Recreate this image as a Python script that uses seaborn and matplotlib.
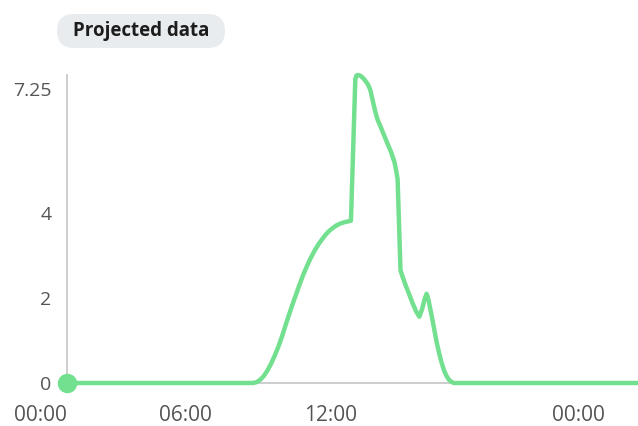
import matplotlib
matplotlib.use("Agg")
import matplotlib.pyplot as plt
import matplotlib.transforms as mtransforms
from matplotlib.patches import FancyBboxPatch
import seaborn as sns
import pandas as pd

# Projected output over the day (hours since midnight)
hours = [0.0, 7.7, 7.85, 8.0, 8.15, 8.3, 8.45, 8.6, 8.75, 8.9, 9.05, 9.2, 9.35,
         9.5, 9.65, 9.8, 9.95, 10.1, 10.25, 10.4, 10.55, 10.7, 10.85, 11.0,
         11.15, 11.3, 11.45, 11.6, 11.75, 11.93, 11.98, 12.05, 12.15, 12.3,
         12.45, 12.55, 12.65, 12.75, 12.85, 13.0, 13.2, 13.4, 13.55, 13.62,
         13.68, 13.8, 13.9, 14.0, 14.15, 14.3, 14.45, 14.58, 14.7, 14.8, 14.88,
         14.95, 15.1, 15.2, 15.3, 15.4, 15.5, 15.6, 15.7, 15.8, 15.9, 16.0,
         16.1, 23.7]
values = [0.0, 0.0, 0.02, 0.08, 0.17, 0.3, 0.46, 0.65, 0.86, 1.1, 1.37, 1.63,
          1.88, 2.12, 2.36, 2.58, 2.78, 2.96, 3.12, 3.26, 3.38, 3.49, 3.58, 3.65,
          3.71, 3.75, 3.78, 3.8, 3.82, 7.15, 7.24, 7.25, 7.23, 7.15, 7.03, 6.9,
          6.65, 6.4, 6.2, 6.0, 5.72, 5.45, 5.2, 5.0, 4.8, 2.65, 2.48, 2.32, 2.1,
          1.88, 1.68, 1.56, 1.75, 1.98, 2.1, 1.98, 1.55, 1.25, 0.95, 0.7, 0.48,
          0.3, 0.17, 0.08, 0.03, 0.0, 0.0, 0.0]

y_ticks = [0, 2, 4, 7.25]
y_tick_labels = ["0", "2", "4", "7.25"]
x_ticks = [0, 6, 12, 22.26]
x_tick_labels = ["00:00", "06:00", "12:00", "00:00"]
badge_text = "Projected data"

GREEN = "#72E08E"
AXIS = "#C9C9C9"
LABEL = "#555555"

sns.set_theme(style="white")
plt.rcParams["font.family"] = ["Open Sans", "DejaVu Sans"]

W, H = 638, 426
fig = plt.figure(figsize=(W / 100, H / 100), dpi=100)
ax = fig.add_axes([67 / W, 1 - 383 / H, 1 - 67 / W, (383 - 75) / H])

df = pd.DataFrame({"hour": hours, "value": values})
sns.lineplot(data=df, x="hour", y="value", ax=ax, color=GREEN, linewidth=3.2,
             estimator=None, sort=False, clip_on=False, zorder=3)
ax.lines[-1].set_solid_joinstyle("round")
ax.lines[-1].set_solid_capstyle("round")
ax.plot([hours[0]], [values[0]], "o", color=GREEN, markersize=13,
        clip_on=False, zorder=4)

ax.set_xlim(0, (W - 67) / (145 / 6))
ax.set_ylim(0, 7.25)
ax.set_xlabel("")
ax.set_ylabel("")

for side in ("top", "right"):
    ax.spines[side].set_visible(False)
for side in ("left", "bottom"):
    ax.spines[side].set_color(AXIS)
    ax.spines[side].set_linewidth(1.3)

ax.set_yticks(y_ticks)
ax.set_yticklabels(y_tick_labels)
ax.set_xticks(x_ticks)
ax.set_xticklabels(x_tick_labels, ha="right")
ax.tick_params(axis="both", colors=AXIS, labelcolor=LABEL, labelsize=14,
               length=8, width=1.2, direction="out")
ax.tick_params(axis="x", pad=8, labelsize=15)
ax.tick_params(axis="y", pad=3)
ax.xaxis.get_major_ticks()[-1].tick1line.set_visible(False)
ax.xaxis.get_major_ticks()[0].tick1line.set_visible(False)

# shift the top value label just below its tick
top_label = ax.get_yticklabels()[-1]
top_label.set_transform(top_label.get_transform() +
                        mtransforms.ScaledTranslation(0, -14 / 100, fig.dpi_scale_trans))

# pill-shaped badge above the chart (pixel coordinates, origin bottom-left)
pill = FancyBboxPatch((57, H - 48), 168, 34,
                      boxstyle="round,pad=0,rounding_size=17",
                      facecolor="#E9ECEF", edgecolor="none",
                      transform=mtransforms.IdentityTransform())
fig.patches.append(pill)
fig.text(141 / W, 1 - 31 / H, badge_text, ha="center", va="center",
         fontsize=13.5, fontweight="bold", color="#1C1C1C")

fig.savefig("out.png", dpi=100, facecolor="white")
